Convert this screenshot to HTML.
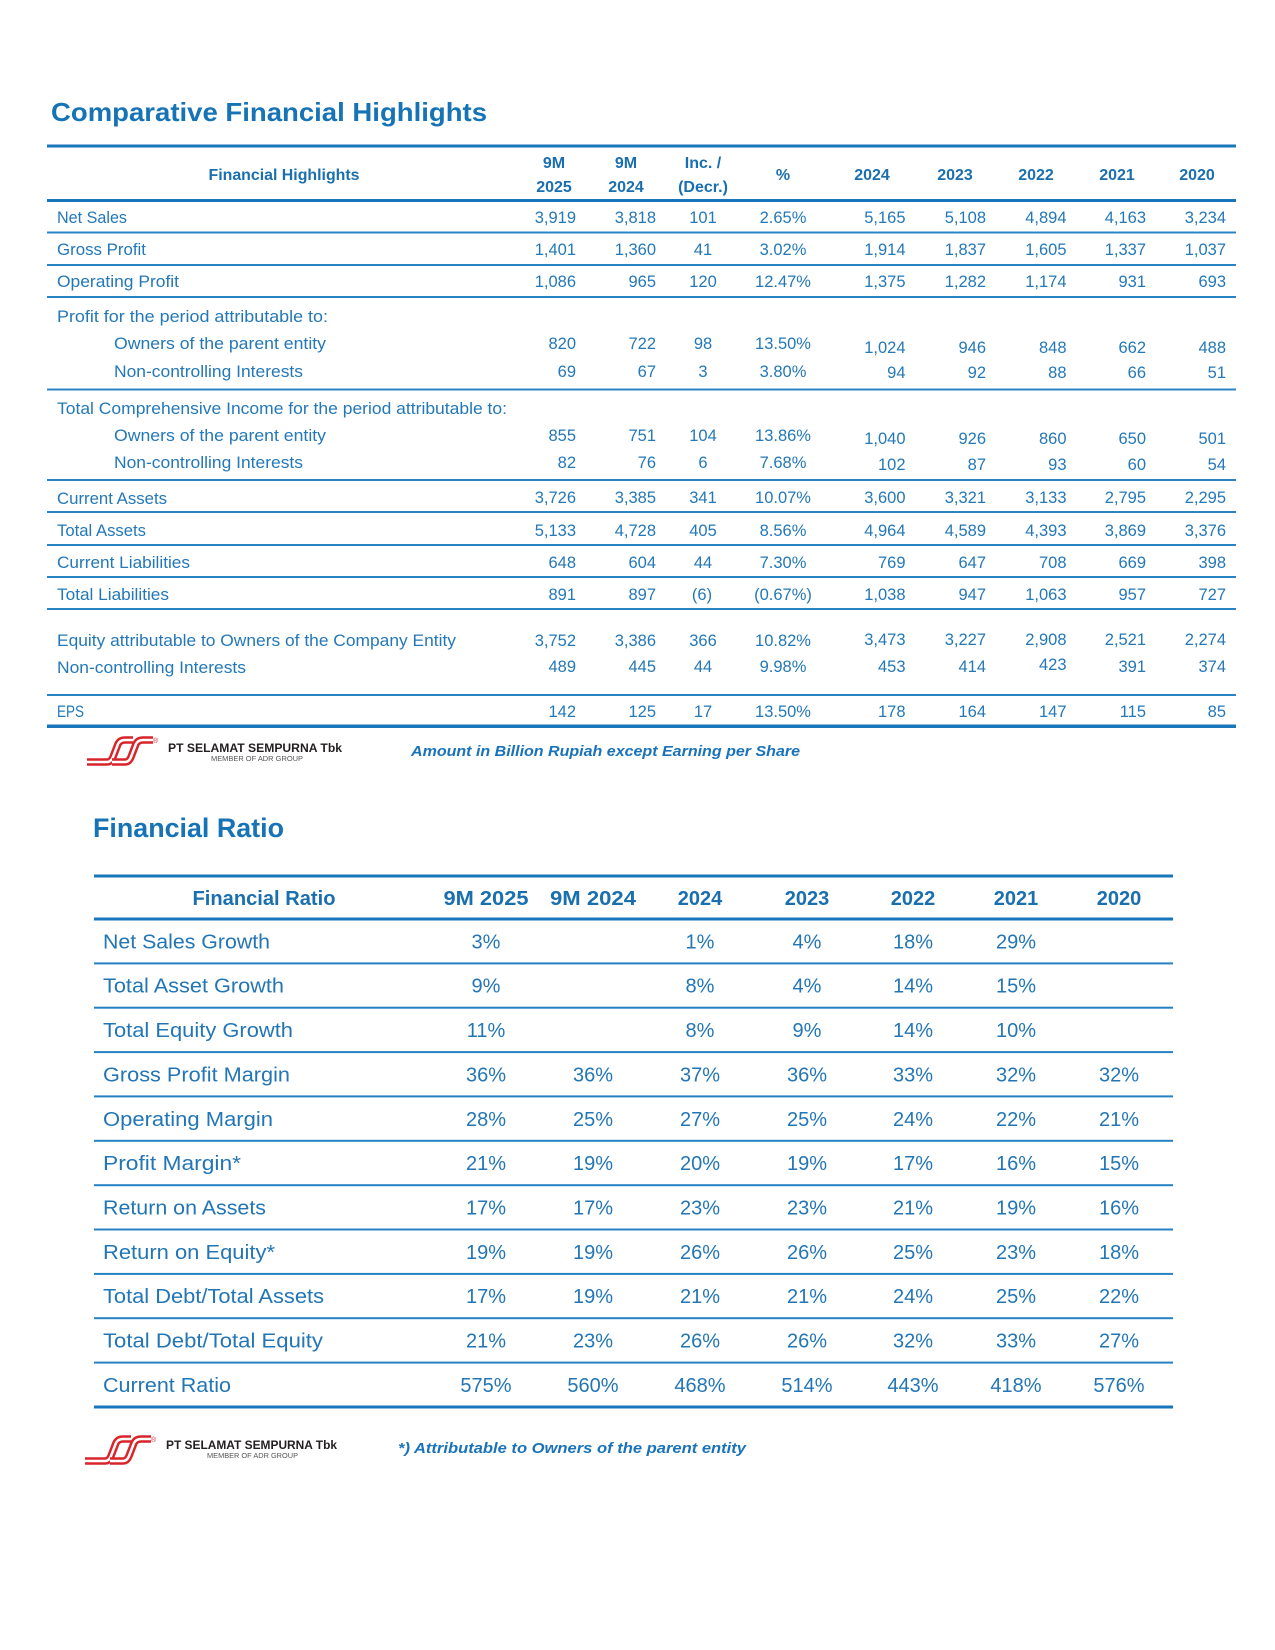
<!DOCTYPE html>
<html>
<head>
<meta charset="utf-8">
<style>
  html,body{margin:0;padding:0;background:#ffffff;}
  svg{display:block;}
  .t{font-family:"Liberation Sans",Arial,sans-serif;}
  .title{font-weight:bold;fill:#1673b6;}
  .hd{font-weight:bold;fill:#1a6fae;font-size:16px;}
  .lb{fill:#2478b8;font-size:16.5px;}
  .n{fill:#2478b8;font-size:16.5px;}
  .r{text-anchor:end;}
  .c{text-anchor:middle;}
  .hd2{font-weight:bold;fill:#1a6fae;font-size:20px;}
  .lb2{fill:#2376b6;font-size:20.5px;}
  .n2{fill:#2376b6;font-size:20px;text-anchor:middle;}
  .note{font-weight:bold;font-style:italic;fill:#1a73b8;font-size:15px;}
  .pt{font-weight:bold;fill:#231f20;font-size:12px;}
  .mem{fill:#555555;font-size:7.5px;}
</style>
</head>
<body>
<svg width="1275" height="1650" viewBox="0 0 1275 1650" xmlns="http://www.w3.org/2000/svg">
  <rect width="1275" height="1650" fill="#ffffff"/>

  <!-- ========== TITLE 1 ========== -->
  <text class="t title" x="51" y="121" font-size="26" textLength="436" lengthAdjust="spacingAndGlyphs">Comparative Financial Highlights</text>

  <!-- rules top table -->
  <rect x="47" y="144.5" width="1189" height="3" fill="#1a76bb"/>
  <rect x="47" y="199" width="1189" height="3" fill="#1a76bb"/>
  <g fill="#2a84c4">
    <rect x="47" y="231.5" width="1189" height="2"/>
    <rect x="47" y="264" width="1189" height="2"/>
    <rect x="47" y="296" width="1189" height="2"/>
    <rect x="47" y="388.5" width="1189" height="2"/>
    <rect x="47" y="479" width="1189" height="2"/>
    <rect x="47" y="511" width="1189" height="2"/>
    <rect x="47" y="544" width="1189" height="2"/>
    <rect x="47" y="576" width="1189" height="2"/>
    <rect x="47" y="608" width="1189" height="2"/>
    <rect x="47" y="694" width="1189" height="2"/>
  </g>
  <rect x="47" y="724.5" width="1189" height="3.5" fill="#1a76bb"/>

  <!-- header -->
  <g class="t hd">
    <text x="208.5" y="180" textLength="151" lengthAdjust="spacingAndGlyphs">Financial Highlights</text>
    <text class="c" x="554" y="168">9M</text>
    <text class="c" x="554" y="192">2025</text>
    <text class="c" x="626" y="168">9M</text>
    <text class="c" x="626" y="192">2024</text>
    <text class="c" x="703" y="168">Inc. /</text>
    <text class="c" x="703" y="192">(Decr.)</text>
    <text class="c" x="783" y="180">%</text>
    <text class="c" x="872" y="180">2024</text>
    <text class="c" x="955" y="180">2023</text>
    <text class="c" x="1036" y="180">2022</text>
    <text class="c" x="1117" y="180">2021</text>
    <text class="c" x="1197" y="180">2020</text>
  </g>

  <!-- labels -->
  <g class="t lb">
    <text x="57" y="223" textLength="70" lengthAdjust="spacingAndGlyphs">Net Sales</text>
    <text x="57" y="255" textLength="89" lengthAdjust="spacingAndGlyphs">Gross Profit</text>
    <text x="57" y="287" textLength="122" lengthAdjust="spacingAndGlyphs">Operating Profit</text>
    <text x="57" y="322" textLength="271" lengthAdjust="spacingAndGlyphs">Profit for the period attributable to:</text>
    <text x="114" y="349" textLength="212" lengthAdjust="spacingAndGlyphs">Owners of the parent entity</text>
    <text x="114" y="377" textLength="189" lengthAdjust="spacingAndGlyphs">Non-controlling Interests</text>
    <text x="57" y="414" textLength="450" lengthAdjust="spacingAndGlyphs">Total Comprehensive Income for the period attributable to:</text>
    <text x="114" y="441" textLength="212" lengthAdjust="spacingAndGlyphs">Owners of the parent entity</text>
    <text x="114" y="468" textLength="189" lengthAdjust="spacingAndGlyphs">Non-controlling Interests</text>
    <text x="57" y="504" textLength="110" lengthAdjust="spacingAndGlyphs">Current Assets</text>
    <text x="57" y="536" textLength="89" lengthAdjust="spacingAndGlyphs">Total Assets</text>
    <text x="57" y="568" textLength="133" lengthAdjust="spacingAndGlyphs">Current Liabilities</text>
    <text x="57" y="600" textLength="112" lengthAdjust="spacingAndGlyphs">Total Liabilities</text>
    <text x="57" y="646" textLength="399" lengthAdjust="spacingAndGlyphs">Equity attributable to Owners of the Company Entity</text>
    <text x="57" y="673" textLength="189" lengthAdjust="spacingAndGlyphs">Non-controlling Interests</text>
    <text x="57" y="717" textLength="27" lengthAdjust="spacingAndGlyphs">EPS</text>
  </g>

  <!-- numbers -->
  <g class="t n">
    <text class="r" x="576" y="223">3,919</text><text class="r" x="656" y="223">3,818</text><text class="c" x="703" y="223">101</text><text class="c" x="783" y="223">2.65%</text>
    <text class="r" x="905.5" y="223">5,165</text><text class="r" x="986" y="223">5,108</text><text class="r" x="1066.5" y="223">4,894</text><text class="r" x="1146" y="223">4,163</text><text class="r" x="1226" y="223">3,234</text>
    <text class="r" x="576" y="255">1,401</text><text class="r" x="656" y="255">1,360</text><text class="c" x="703" y="255">41</text><text class="c" x="783" y="255">3.02%</text>
    <text class="r" x="905.5" y="255">1,914</text><text class="r" x="986" y="255">1,837</text><text class="r" x="1066.5" y="255">1,605</text><text class="r" x="1146" y="255">1,337</text><text class="r" x="1226" y="255">1,037</text>
    <text class="r" x="576" y="287">1,086</text><text class="r" x="656" y="287">965</text><text class="c" x="703" y="287">120</text><text class="c" x="783" y="287">12.47%</text>
    <text class="r" x="905.5" y="287">1,375</text><text class="r" x="986" y="287">1,282</text><text class="r" x="1066.5" y="287">1,174</text><text class="r" x="1146" y="287">931</text><text class="r" x="1226" y="287">693</text>
    <text class="r" x="576" y="349">820</text><text class="r" x="656" y="349">722</text><text class="c" x="703" y="349">98</text><text class="c" x="783" y="349">13.50%</text>
    <text class="r" x="905.5" y="353">1,024</text><text class="r" x="986" y="353">946</text><text class="r" x="1066.5" y="353">848</text><text class="r" x="1146" y="353">662</text><text class="r" x="1226" y="353">488</text>
    <text class="r" x="576" y="377">69</text><text class="r" x="656" y="377">67</text><text class="c" x="703" y="377">3</text><text class="c" x="783" y="377">3.80%</text>
    <text class="r" x="905.5" y="378">94</text><text class="r" x="986" y="378">92</text><text class="r" x="1066.5" y="378">88</text><text class="r" x="1146" y="378">66</text><text class="r" x="1226" y="378">51</text>
    <text class="r" x="576" y="441">855</text><text class="r" x="656" y="441">751</text><text class="c" x="703" y="441">104</text><text class="c" x="783" y="441">13.86%</text>
    <text class="r" x="905.5" y="444">1,040</text><text class="r" x="986" y="444">926</text><text class="r" x="1066.5" y="444">860</text><text class="r" x="1146" y="444">650</text><text class="r" x="1226" y="444">501</text>
    <text class="r" x="576" y="468">82</text><text class="r" x="656" y="468">76</text><text class="c" x="703" y="468">6</text><text class="c" x="783" y="468">7.68%</text>
    <text class="r" x="905.5" y="470">102</text><text class="r" x="986" y="470">87</text><text class="r" x="1066.5" y="470">93</text><text class="r" x="1146" y="470">60</text><text class="r" x="1226" y="470">54</text>
    <text class="r" x="576" y="503">3,726</text><text class="r" x="656" y="503">3,385</text><text class="c" x="703" y="503">341</text><text class="c" x="783" y="503">10.07%</text>
    <text class="r" x="905.5" y="503">3,600</text><text class="r" x="986" y="503">3,321</text><text class="r" x="1066.5" y="503">3,133</text><text class="r" x="1146" y="503">2,795</text><text class="r" x="1226" y="503">2,295</text>
    <text class="r" x="576" y="536">5,133</text><text class="r" x="656" y="536">4,728</text><text class="c" x="703" y="536">405</text><text class="c" x="783" y="536">8.56%</text>
    <text class="r" x="905.5" y="536">4,964</text><text class="r" x="986" y="536">4,589</text><text class="r" x="1066.5" y="536">4,393</text><text class="r" x="1146" y="536">3,869</text><text class="r" x="1226" y="536">3,376</text>
    <text class="r" x="576" y="568">648</text><text class="r" x="656" y="568">604</text><text class="c" x="703" y="568">44</text><text class="c" x="783" y="568">7.30%</text>
    <text class="r" x="905.5" y="568">769</text><text class="r" x="986" y="568">647</text><text class="r" x="1066.5" y="568">708</text><text class="r" x="1146" y="568">669</text><text class="r" x="1226" y="568">398</text>
    <text class="r" x="576" y="600">891</text><text class="r" x="656" y="600">897</text><text class="c" x="702" y="600">(6)</text><text class="c" x="783" y="600">(0.67%)</text>
    <text class="r" x="905.5" y="600">1,038</text><text class="r" x="986" y="600">947</text><text class="r" x="1066.5" y="600">1,063</text><text class="r" x="1146" y="600">957</text><text class="r" x="1226" y="600">727</text>
    <text class="r" x="576" y="646">3,752</text><text class="r" x="656" y="646">3,386</text><text class="c" x="703" y="646">366</text><text class="c" x="783" y="646">10.82%</text>
    <text class="r" x="905.5" y="645">3,473</text><text class="r" x="986" y="645">3,227</text><text class="r" x="1066.5" y="645">2,908</text><text class="r" x="1146" y="645">2,521</text><text class="r" x="1226" y="645">2,274</text>
    <text class="r" x="576" y="672">489</text><text class="r" x="656" y="672">445</text><text class="c" x="703" y="672">44</text><text class="c" x="783" y="672">9.98%</text>
    <text class="r" x="905.5" y="672">453</text><text class="r" x="986" y="672">414</text><text class="r" x="1066.5" y="670">423</text><text class="r" x="1146" y="672">391</text><text class="r" x="1226" y="672">374</text>
    <text class="r" x="576" y="717">142</text><text class="r" x="656" y="717">125</text><text class="c" x="703" y="717">17</text><text class="c" x="783" y="717">13.50%</text>
    <text class="r" x="905.5" y="717">178</text><text class="r" x="986" y="717">164</text><text class="r" x="1066.5" y="717">147</text><text class="r" x="1146" y="717">115</text><text class="r" x="1226" y="717">85</text>
  </g>

  <!-- Logo 1 -->
  <g transform="translate(87,737)">
    <g fill="none" stroke-linejoin="round" stroke-linecap="butt">
      <path d="M0 25 L20 25 Q24 25 26 20 L31 7 Q33 3 38 3 L46 3" stroke="#d9242b" stroke-width="7.5"/>
      <path d="M0 25 L20 25 Q24 25 26 20 L31 7 Q33 3 38 3 L46 3" stroke="#ffffff" stroke-width="2.5"/>
      <path d="M25 25 L38 25 Q42 25 44 20 L49 7 Q51 3 56 3 L66 3" stroke="#d9242b" stroke-width="7.5"/>
      <path d="M25 25 L38 25 Q42 25 44 20 L49 7 Q51 3 56 3 L66 3" stroke="#ffffff" stroke-width="2.5"/>
    </g>
    <text class="t" x="66" y="6" font-size="7" fill="#d9242b">®</text>
  </g>
  <text class="t pt" x="168" y="752" textLength="174" lengthAdjust="spacingAndGlyphs">PT SELAMAT SEMPURNA Tbk</text>
  <text class="t mem" x="211" y="761" textLength="92" lengthAdjust="spacingAndGlyphs">MEMBER OF ADR GROUP</text>
  <text class="t note" x="411" y="756" textLength="389" lengthAdjust="spacingAndGlyphs">Amount in Billion Rupiah except Earning per Share</text>

  <!-- ========== TITLE 2 ========== -->
  <text class="t title" x="93" y="837" font-size="27" textLength="191" lengthAdjust="spacingAndGlyphs">Financial Ratio</text>

  <!-- rules ratio table -->
  <rect x="94" y="874.5" width="1079" height="3" fill="#1a76bb"/>
  <rect x="94" y="917.5" width="1079" height="3" fill="#1a76bb"/>
  <g fill="#2581c2">
    <rect x="94" y="962.4" width="1079" height="2"/>
    <rect x="94" y="1006.7" width="1079" height="2"/>
    <rect x="94" y="1051.1" width="1079" height="2"/>
    <rect x="94" y="1095.4" width="1079" height="2"/>
    <rect x="94" y="1139.8" width="1079" height="2"/>
    <rect x="94" y="1184.2" width="1079" height="2"/>
    <rect x="94" y="1228.5" width="1079" height="2"/>
    <rect x="94" y="1272.9" width="1079" height="2"/>
    <rect x="94" y="1317.2" width="1079" height="2"/>
    <rect x="94" y="1361.6" width="1079" height="2"/>
  </g>
  <rect x="94" y="1405.5" width="1079" height="3" fill="#1a76bb"/>

  <!-- header 2 -->
  <g class="t hd2">
    <text x="192.5" y="905" textLength="143" lengthAdjust="spacingAndGlyphs">Financial Ratio</text>
    <text x="443.5" y="905" textLength="85" lengthAdjust="spacingAndGlyphs">9M 2025</text>
    <text x="550" y="905" textLength="86" lengthAdjust="spacingAndGlyphs">9M 2024</text>
    <text class="c" x="700" y="905">2024</text>
    <text class="c" x="807" y="905">2023</text>
    <text class="c" x="913" y="905">2022</text>
    <text class="c" x="1016" y="905">2021</text>
    <text class="c" x="1119" y="905">2020</text>
  </g>

  <!-- labels 2 -->
  <g class="t lb2">
    <text x="103" y="948.4" textLength="167" lengthAdjust="spacingAndGlyphs">Net Sales Growth</text>
    <text x="103" y="992.7" textLength="181" lengthAdjust="spacingAndGlyphs">Total Asset Growth</text>
    <text x="103" y="1037.1" textLength="190" lengthAdjust="spacingAndGlyphs">Total Equity Growth</text>
    <text x="103" y="1081.4" textLength="187" lengthAdjust="spacingAndGlyphs">Gross Profit Margin</text>
    <text x="103" y="1125.8" textLength="170" lengthAdjust="spacingAndGlyphs">Operating Margin</text>
    <text x="103" y="1170.2" textLength="138" lengthAdjust="spacingAndGlyphs">Profit Margin*</text>
    <text x="103" y="1214.5" textLength="163" lengthAdjust="spacingAndGlyphs">Return on Assets</text>
    <text x="103" y="1258.9" textLength="172" lengthAdjust="spacingAndGlyphs">Return on Equity*</text>
    <text x="103" y="1303.2" textLength="221" lengthAdjust="spacingAndGlyphs">Total Debt/Total Assets</text>
    <text x="103" y="1347.6" textLength="220" lengthAdjust="spacingAndGlyphs">Total Debt/Total Equity</text>
    <text x="103" y="1392" textLength="128" lengthAdjust="spacingAndGlyphs">Current Ratio</text>
  </g>

  <!-- values 2 -->
  <g class="t n2">
    <text x="486" y="948.4">3%</text><text x="700" y="948.4">1%</text><text x="807" y="948.4">4%</text><text x="913" y="948.4">18%</text><text x="1016" y="948.4">29%</text>
    <text x="486" y="992.7">9%</text><text x="700" y="992.7">8%</text><text x="807" y="992.7">4%</text><text x="913" y="992.7">14%</text><text x="1016" y="992.7">15%</text>
    <text x="486" y="1037.1">11%</text><text x="700" y="1037.1">8%</text><text x="807" y="1037.1">9%</text><text x="913" y="1037.1">14%</text><text x="1016" y="1037.1">10%</text>
    <text x="486" y="1081.4">36%</text><text x="593" y="1081.4">36%</text><text x="700" y="1081.4">37%</text><text x="807" y="1081.4">36%</text><text x="913" y="1081.4">33%</text><text x="1016" y="1081.4">32%</text><text x="1119" y="1081.4">32%</text>
    <text x="486" y="1125.8">28%</text><text x="593" y="1125.8">25%</text><text x="700" y="1125.8">27%</text><text x="807" y="1125.8">25%</text><text x="913" y="1125.8">24%</text><text x="1016" y="1125.8">22%</text><text x="1119" y="1125.8">21%</text>
    <text x="486" y="1170.2">21%</text><text x="593" y="1170.2">19%</text><text x="700" y="1170.2">20%</text><text x="807" y="1170.2">19%</text><text x="913" y="1170.2">17%</text><text x="1016" y="1170.2">16%</text><text x="1119" y="1170.2">15%</text>
    <text x="486" y="1214.5">17%</text><text x="593" y="1214.5">17%</text><text x="700" y="1214.5">23%</text><text x="807" y="1214.5">23%</text><text x="913" y="1214.5">21%</text><text x="1016" y="1214.5">19%</text><text x="1119" y="1214.5">16%</text>
    <text x="486" y="1258.9">19%</text><text x="593" y="1258.9">19%</text><text x="700" y="1258.9">26%</text><text x="807" y="1258.9">26%</text><text x="913" y="1258.9">25%</text><text x="1016" y="1258.9">23%</text><text x="1119" y="1258.9">18%</text>
    <text x="486" y="1303.2">17%</text><text x="593" y="1303.2">19%</text><text x="700" y="1303.2">21%</text><text x="807" y="1303.2">21%</text><text x="913" y="1303.2">24%</text><text x="1016" y="1303.2">25%</text><text x="1119" y="1303.2">22%</text>
    <text x="486" y="1347.6">21%</text><text x="593" y="1347.6">23%</text><text x="700" y="1347.6">26%</text><text x="807" y="1347.6">26%</text><text x="913" y="1347.6">32%</text><text x="1016" y="1347.6">33%</text><text x="1119" y="1347.6">27%</text>
    <text x="486" y="1392">575%</text><text x="593" y="1392">560%</text><text x="700" y="1392">468%</text><text x="807" y="1392">514%</text><text x="913" y="1392">443%</text><text x="1016" y="1392">418%</text><text x="1119" y="1392">576%</text>
  </g>

  <!-- Logo 2 -->
  <g transform="translate(85,1436)">
    <g fill="none" stroke-linejoin="round" stroke-linecap="butt">
      <path d="M0 25 L20 25 Q24 25 26 20 L31 7 Q33 3 38 3 L46 3" stroke="#d9242b" stroke-width="7.5"/>
      <path d="M0 25 L20 25 Q24 25 26 20 L31 7 Q33 3 38 3 L46 3" stroke="#ffffff" stroke-width="2.5"/>
      <path d="M25 25 L38 25 Q42 25 44 20 L49 7 Q51 3 56 3 L66 3" stroke="#d9242b" stroke-width="7.5"/>
      <path d="M25 25 L38 25 Q42 25 44 20 L49 7 Q51 3 56 3 L66 3" stroke="#ffffff" stroke-width="2.5"/>
    </g>
    <text class="t" x="66" y="6" font-size="7" fill="#d9242b">®</text>
  </g>
  <text class="t pt" x="166" y="1449" textLength="171" lengthAdjust="spacingAndGlyphs">PT SELAMAT SEMPURNA Tbk</text>
  <text class="t mem" x="207" y="1458" textLength="91" lengthAdjust="spacingAndGlyphs">MEMBER OF ADR GROUP</text>
  <text class="t note" x="398" y="1453" textLength="348" lengthAdjust="spacingAndGlyphs">*) Attributable to Owners of the parent entity</text>
</svg>
</body>
</html>
